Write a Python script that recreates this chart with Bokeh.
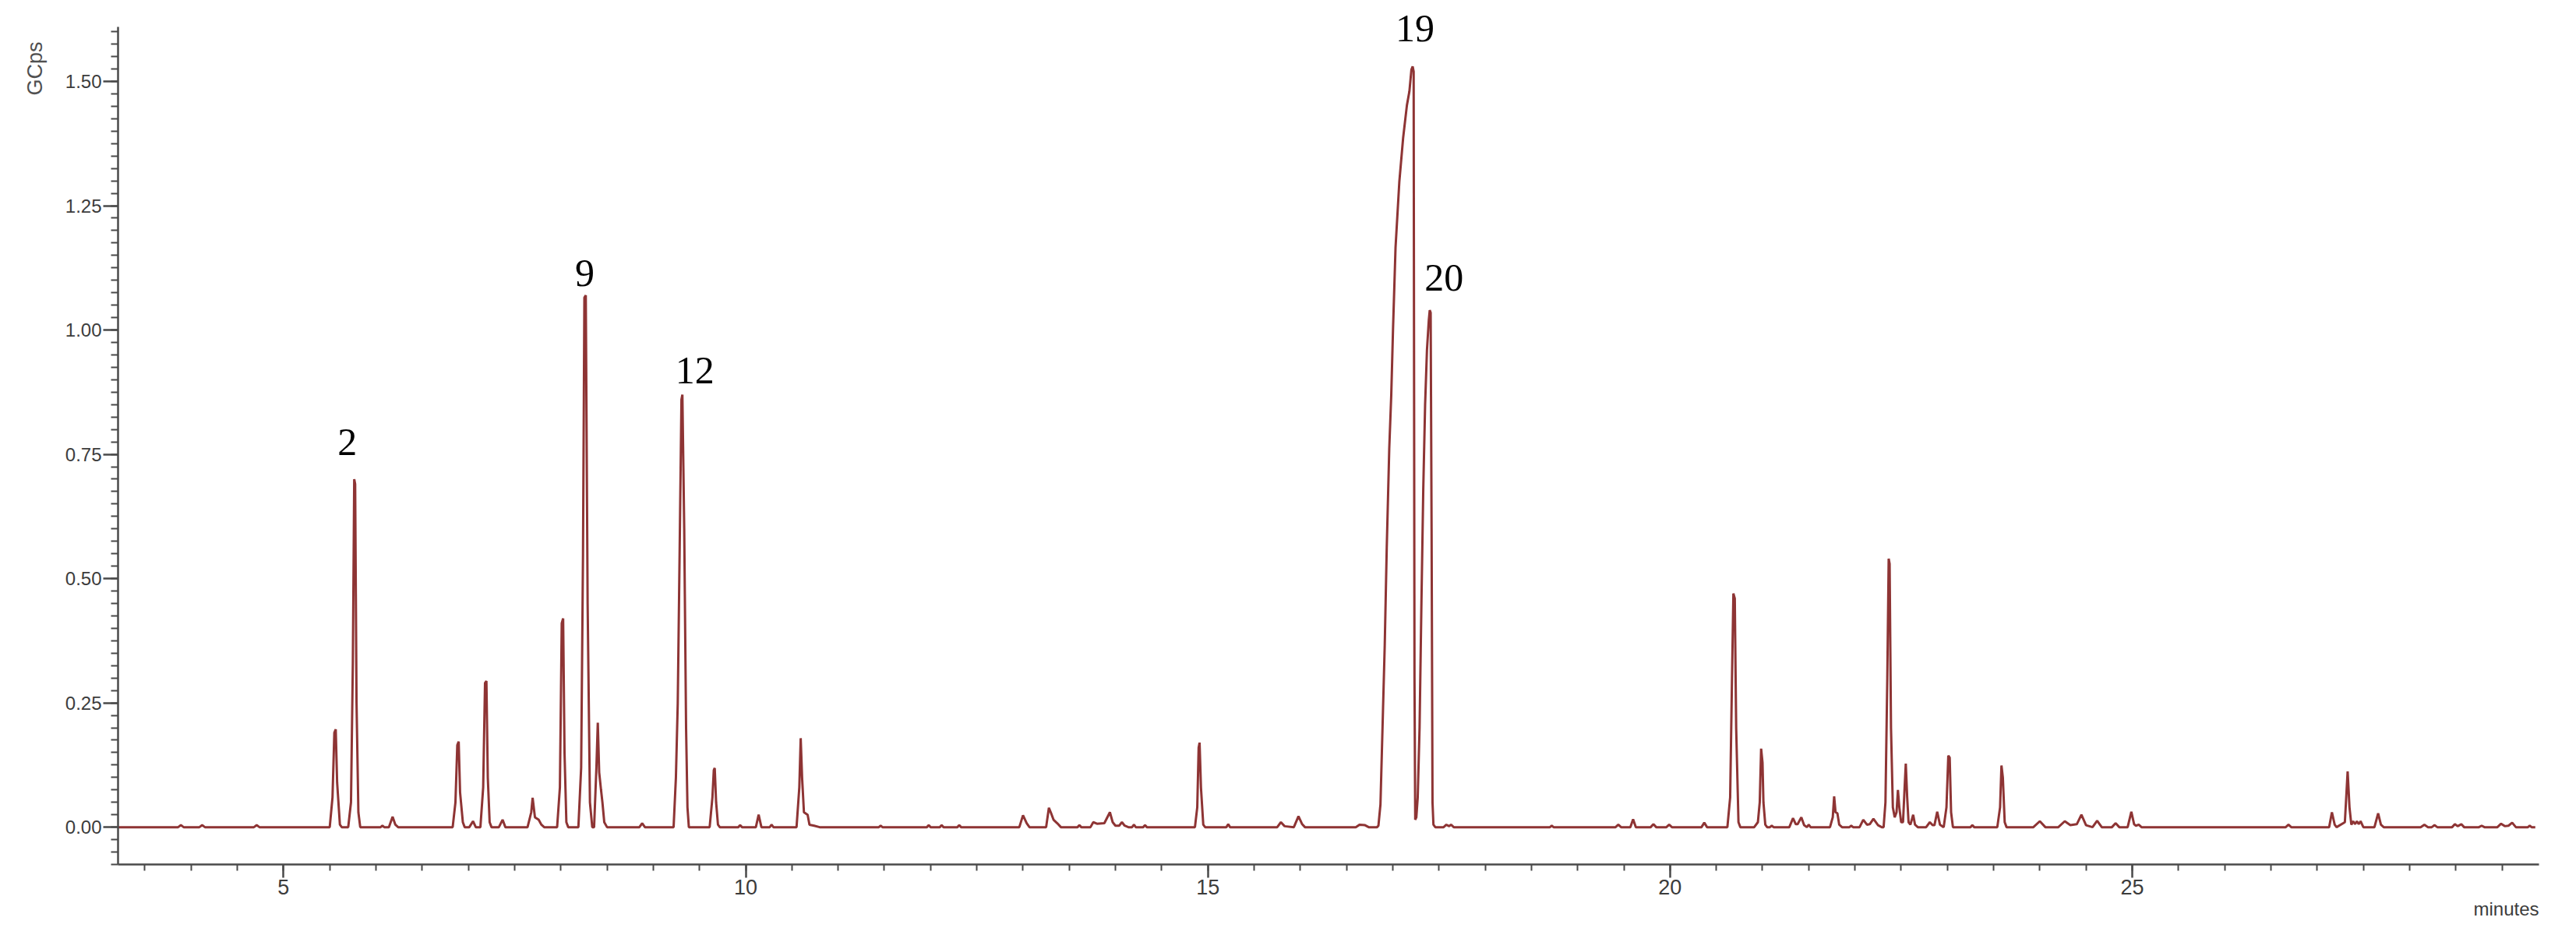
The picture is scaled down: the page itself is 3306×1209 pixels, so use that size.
from bokeh.plotting import figure
from bokeh.models import Range1d, FixedTicker, PrintfTickFormatter, LabelSet, ColumnDataSource, Title
from bokeh.embed import file_html
from bokeh.resources import INLINE

# ---- chromatogram trace (retention time in minutes, signal in GCps) ----
trace_time = [
    [3.21, 3.86, 3.89, 3.92, 4.09, 4.12, 4.15, 4.68, 4.71, 4.74],
    [5.50, 5.53, 5.55, 5.565, 5.58, 5.61, 5.63],
    [5.70, 5.73, 5.75, 5.765, 5.775, 5.79, 5.81, 5.83],
    [6.05, 6.07, 6.09, 6.14, 6.18, 6.21, 6.24],
    [6.83, 6.86, 6.88, 6.895, 6.91, 6.94, 6.96],
    [7.01, 7.05, 7.08],
    [7.13, 7.16, 7.18, 7.195, 7.21, 7.23, 7.25],
    [7.33, 7.37, 7.40],
    [7.64, 7.68, 7.695, 7.72, 7.76, 7.79, 7.82],
    [7.96, 7.99, 8.01, 8.025, 8.04, 8.06, 8.08],
    [8.19, 8.22, 8.24, 8.255, 8.27, 8.29, 8.315, 8.34],
    [8.36, 8.385, 8.40, 8.415, 8.435, 8.45, 8.47, 8.50],
    [8.85, 8.88, 8.91],
    [9.22, 9.245, 9.265, 9.285, 9.305, 9.315, 9.335, 9.355, 9.37, 9.385],
    [9.61, 9.64, 9.655, 9.665, 9.68, 9.70, 9.72],
    [9.92, 9.94, 9.96, 10.11, 10.14, 10.17, 10.26, 10.28, 10.30],
    [10.55, 10.58, 10.595, 10.61, 10.63, 10.67, 10.69, 10.74, 10.80],
    [11.44, 11.46, 11.48, 11.96, 11.98, 12.00, 12.10, 12.12, 12.14, 12.29, 12.31, 12.33],
    [12.96, 13.00, 13.04, 13.07, 13.25, 13.28, 13.30, 13.33, 13.37, 13.41],
    [13.59, 13.61, 13.63, 13.73, 13.76, 13.80, 13.88, 13.94, 13.97, 14.00,
     14.04, 14.07, 14.10, 14.14, 14.18, 14.20, 14.22, 14.30, 14.32, 14.34],
    [14.86, 14.885, 14.90, 14.91, 14.925, 14.95, 14.97],
    [15.20, 15.22, 15.24, 15.75, 15.79, 15.83, 15.93, 15.98, 16.02, 16.05, 16.60, 16.64, 16.70, 16.74],
    [16.83, 16.845, 16.867, 16.894, 16.913, 16.935, 16.962, 16.984, 17.003, 17.03,
     17.071, 17.112, 17.153, 17.18, 17.202, 17.215, 17.226, 17.235, 17.243, 17.255,
     17.27, 17.29, 17.31, 17.33, 17.35, 17.37, 17.39, 17.40, 17.41, 17.42,
     17.43, 17.44, 17.46],
    [17.55, 17.58, 17.61, 17.63, 17.66, 18.70, 18.72, 18.74, 19.41, 19.44, 19.47, 19.57,
     19.60, 19.63, 19.79, 19.82, 19.85, 19.96, 19.99, 20.02, 20.34, 20.37, 20.40],
    [20.62, 20.65, 20.67, 20.685, 20.70, 20.715, 20.74, 20.76],
    [20.91, 20.95, 20.97, 20.985, 21.00, 21.01, 21.03, 21.05, 21.08, 21.10, 21.12],
    [21.29, 21.33, 21.36, 21.38, 21.42, 21.45, 21.48, 21.50, 21.52],
    [21.73, 21.76, 21.775, 21.79, 21.81, 21.83, 21.86, 21.94, 21.96, 21.98],
    [22.05, 22.09, 22.13, 22.16, 22.20, 22.25, 22.29],
    [22.31, 22.33, 22.35, 22.365, 22.375, 22.39, 22.41, 22.43, 22.45, 22.465,
     22.48, 22.50, 22.52, 22.54, 22.55, 22.565, 22.58, 22.60, 22.63, 22.65, 22.68],
    [22.77, 22.81, 22.84, 22.86, 22.89, 22.92, 22.96, 22.99, 23.01, 23.025, 23.04, 23.06, 23.25, 23.27, 23.29],
    [23.54, 23.57, 23.585, 23.60, 23.62, 23.64],
    [23.93, 24.00, 24.06, 24.20, 24.27, 24.33, 24.40, 24.45, 24.50, 24.57, 24.62, 24.67,
     24.78, 24.82, 24.86, 24.95, 24.99, 25.02, 25.04, 25.07, 25.10],
    [26.66, 26.69, 26.72, 27.13, 27.16, 27.19, 27.21, 27.30, 27.33, 27.35, 27.37, 27.39,
     27.41, 27.43, 27.45, 27.47, 27.50, 27.62, 27.66, 27.69, 27.72],
    [28.12, 28.16, 28.20, 28.24, 28.27, 28.30, 28.46, 28.49, 28.52, 28.56, 28.59, 28.75,
     28.78, 28.81, 28.95, 28.99, 29.03, 29.07, 29.11, 29.15, 29.28, 29.30, 29.32, 29.36],
]
trace_signal = [
    [0, 0, 0.004, 0, 0, 0.004, 0, 0, 0.004, 0],
    [0, 0.06, 0.19, 0.197, 0.09, 0.005, 0],
    [0, 0.05, 0.33, 0.70, 0.69, 0.25, 0.03, 0],
    [0, 0.003, 0, 0, 0.021, 0.005, 0],
    [0, 0.05, 0.165, 0.172, 0.07, 0.01, 0],
    [0, 0.012, 0],
    [0, 0.08, 0.29, 0.294, 0.10, 0.01, 0],
    [0, 0.015, 0],
    [0, 0.03, 0.059, 0.02, 0.015, 0.005, 0],
    [0, 0.08, 0.41, 0.42, 0.15, 0.01, 0],
    [0, 0.12, 0.55, 1.065, 1.07, 0.45, 0.05, 0],
    [0, 0.12, 0.21, 0.11, 0.075, 0.05, 0.01, 0],
    [0, 0.008, 0],
    [0, 0.10, 0.25, 0.55, 0.86, 0.87, 0.60, 0.20, 0.04, 0],
    [0, 0.06, 0.115, 0.119, 0.05, 0.005, 0],
    [0, 0.004, 0, 0, 0.025, 0, 0, 0.005, 0],
    [0, 0.08, 0.179, 0.10, 0.03, 0.025, 0.005, 0.003, 0],
    [0, 0.003, 0, 0, 0.004, 0, 0, 0.004, 0, 0, 0.004, 0],
    [0, 0.024, 0.008, 0, 0, 0.039, 0.03, 0.015, 0.008, 0],
    [0, 0.004, 0, 0, 0.01, 0.007, 0.008, 0.030, 0.01, 0.003,
     0.003, 0.01, 0.003, 0, 0, 0.005, 0, 0, 0.004, 0],
    [0, 0.04, 0.16, 0.170, 0.08, 0.005, 0],
    [0, 0.006, 0, 0, 0.010, 0.002, 0, 0.022, 0.006, 0, 0, 0.005, 0.004, 0],
    [0, 0.003, 0.046, 0.233, 0.365, 0.563, 0.761, 0.871, 1.003, 1.166,
     1.298, 1.386, 1.452, 1.48, 1.524, 1.53, 1.52, 0.30, 0.015, 0.02,
     0.06, 0.2, 0.45, 0.68, 0.85, 0.96, 1.02, 1.04, 1.035, 0.6,
     0.05, 0.005, 0],
    [0, 0.005, 0.002, 0.005, 0, 0, 0.003, 0, 0, 0.005, 0, 0,
     0.016, 0, 0, 0.006, 0, 0, 0.005, 0, 0, 0.009, 0],
    [0, 0.06, 0.30, 0.47, 0.46, 0.2, 0.01, 0],
    [0, 0.01, 0.05, 0.158, 0.13, 0.05, 0.005, 0, 0, 0.003, 0],
    [0, 0.018, 0.006, 0.006, 0.020, 0.004, 0, 0.005, 0],
    [0, 0.02, 0.062, 0.03, 0.028, 0.005, 0, 0, 0.003, 0],
    [0, 0.015, 0.005, 0.006, 0.017, 0.004, 0],
    [0, 0.05, 0.30, 0.54, 0.53, 0.2, 0.04, 0.02, 0.03, 0.075,
     0.04, 0.01, 0.01, 0.09, 0.128, 0.06, 0.01, 0.005, 0.025, 0.005, 0],
    [0, 0.01, 0.004, 0.004, 0.031, 0.005, 0, 0.04, 0.144, 0.14, 0.03, 0, 0, 0.004, 0],
    [0, 0.04, 0.124, 0.10, 0.01, 0],
    [0, 0.012, 0, 0, 0.012, 0.004, 0.006, 0.025, 0.004, 0, 0.013, 0,
     0, 0.008, 0, 0, 0.031, 0.006, 0.003, 0.005, 0],
    [0, 0.005, 0, 0, 0.030, 0.005, 0, 0.01, 0.112, 0.04, 0.005, 0.012,
     0.006, 0.012, 0.006, 0.012, 0, 0, 0.028, 0.005, 0],
    [0, 0.005, 0, 0, 0.004, 0, 0, 0.006, 0.002, 0.006, 0, 0,
     0.003, 0, 0, 0.007, 0.002, 0.003, 0.009, 0, 0, 0.003, 0, 0],
]

# ---- peak number labels ----
peak_names = ["2", "9", "12", "19", "20"]
peak_label_time = [5.69, 8.26, 9.45, 17.24, 17.555]
peak_label_signal = [0.749, 1.088, 0.893, 1.58, 1.08]

# ---- axes ----
x_major_ticks = [5, 10, 15, 20, 25]
y_major_ticks = [0.0, 0.25, 0.50, 0.75, 1.00, 1.25, 1.50]
x_minor_step = 0.5
y_minor_step = 0.025
x_limits = (3.21, 29.40)
y_axis_limits = (-0.075, 1.61)
y_view_top = 1.663
y_unit = "GCps"
x_unit = "minutes"

xs, ys = [], []
for tt, ss in zip(trace_time, trace_signal):
    assert len(tt) == len(ss), (tt, ss)
    xs.extend(tt)
    ys.extend(ss)

p = figure(width=3290, height=1200, output_backend="svg", toolbar_location=None,
           x_range=Range1d(*x_limits), y_range=Range1d(y_axis_limits[0], y_view_top),
           min_border_left=151, min_border_right=32, min_border_top=0, min_border_bottom=91)
p.outline_line_color = None
p.grid.visible = False
p.background_fill_color = "white"
p.border_fill_color = "white"

p.line(xs, ys, line_color="#8e3434", line_width=3)

x_minor = []
v = 3.5
while v <= x_limits[1]:
    x_minor.append(round(v, 3))
    v += x_minor_step
y_minor = []
v = y_axis_limits[0]
while v <= y_axis_limits[1] + 1e-9:
    y_minor.append(round(v, 4))
    v += y_minor_step

p.xaxis.ticker = FixedTicker(ticks=x_major_ticks, minor_ticks=x_minor)
p.yaxis.ticker = FixedTicker(ticks=y_major_ticks, minor_ticks=y_minor)
p.yaxis.formatter = PrintfTickFormatter(format="%.2f")
p.yaxis.bounds = y_axis_limits

for ax in (p.xaxis[0], p.yaxis[0]):
    ax.axis_line_color = "#4a4a4a"
    ax.axis_line_width = 2.5
    ax.major_tick_line_color = "#4a4a4a"
    ax.major_tick_line_width = 2.5
    ax.minor_tick_line_color = "#4a4a4a"
    ax.minor_tick_line_width = 2
    ax.major_tick_in = 0
    ax.minor_tick_in = 0
    ax.major_label_text_font = "Liberation Sans"
    ax.major_label_text_color = "#3c3c3c"

p.yaxis.major_tick_out = 19
p.yaxis.minor_tick_out = 9
p.yaxis.major_label_standoff = 2
p.yaxis.major_label_text_font_size = "24px"
p.xaxis.major_tick_out = 17
p.xaxis.minor_tick_out = 8
p.xaxis.major_label_standoff = 2
p.xaxis.major_label_text_font_size = "27px"

src = ColumnDataSource(dict(x=peak_label_time, y=peak_label_signal, t=peak_names))
p.add_layout(LabelSet(x="x", y="y", text="t", source=src, text_align="center",
                      text_baseline="alphabetic", text_font="Liberation Serif",
                      text_font_size="50px", text_color="black"))

p.add_layout(Title(text=y_unit, align="right", offset=53, standoff=42,
                   text_font="Liberation Sans", text_font_style="normal",
                   text_font_size="27px", text_color="#505050"), "left")
p.add_layout(Title(text=x_unit, align="right", offset=0, standoff=0,
                   text_font="Liberation Sans", text_font_style="normal",
                   text_font_size="24px", text_color="#3c3c3c"), "below")

open("out.html", "w").write(file_html(p, INLINE))
